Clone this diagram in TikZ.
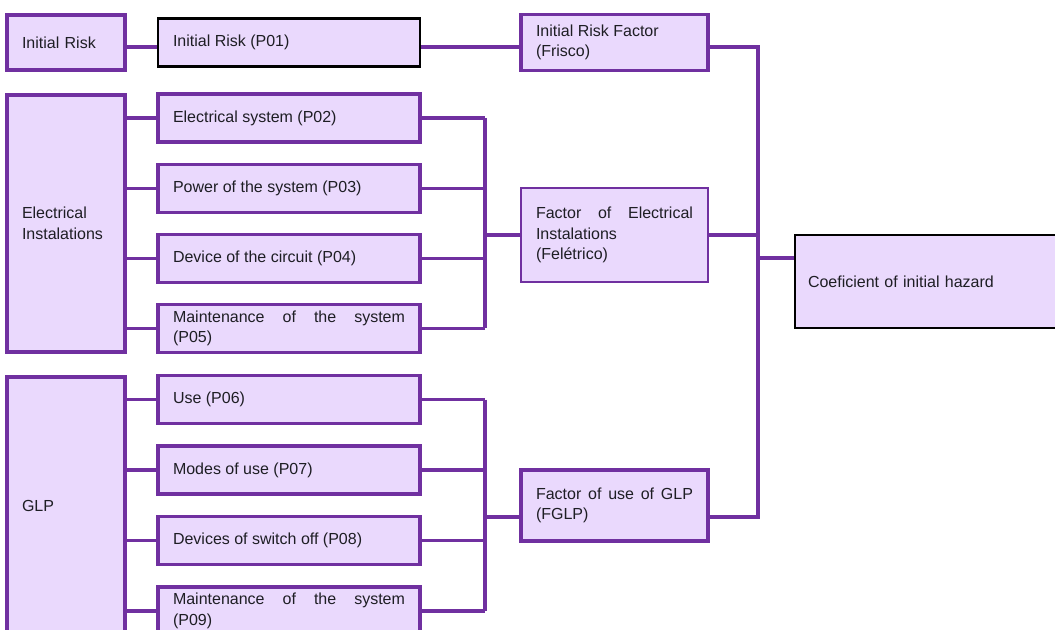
\documentclass[tikz,border=0pt]{standalone}
\usepackage{fontspec}
\setmainfont{Liberation Sans}
\usepackage{tikz}
\definecolor{boxfill}{HTML}{EAD9FD}
\definecolor{boxline}{HTML}{7030A0}
\definecolor{boxtext}{HTML}{1E1E24}
\tikzstyle{box}=[rectangle, draw=boxline, fill=boxfill, line width=2.5pt, inner xsep=11.25pt, inner ysep=0pt]
\tikzstyle{box}+=[text=boxtext, font=\fontsize{12}{15.5}\selectfont, align=left]
\tikzstyle{catbox}=[box, minimum width=88.5pt, text width=66pt]
\tikzstyle{itembox}=[box, minimum width=196.5pt, text width=174pt, minimum height=36pt, align=justify]
\tikzstyle{factorbox}=[box, minimum width=140.25pt, text width=117.75pt, align=justify]
\tikzstyle{blackbox}=[draw=black, line width=1.7pt]
\tikzstyle{link}=[draw=boxline, line width=2.5pt]

\begin{document}
\begin{tikzpicture}[x=0.75pt, y=-0.75pt]
	\useasboundingbox (0,0) rectangle (1055,630);

	\node[catbox, minimum height=41.25pt] (ir) at (66,42.5) {Initial Risk};
	\node[itembox, blackbox] (p01) at (289,42.5) {Initial Risk (P01)};

	\node[catbox, minimum height=192.75pt] (ei) at (66,223.5) {Electrical\\Instalations};
	\node[itembox] (p02) at (289,118) {Electrical system (P02)};
	\node[itembox] (p03) at (289,188.5) {Power of the system (P03)};
	\node[itembox] (p04) at (289,258.5) {Device of the circuit (P04)};
	\node[itembox] (p05) at (289,328.5) {Maintenance of the system\linebreak (P05)};

	\node[catbox, minimum height=192.75pt] (glp) at (66,505.5) {GLP};
	\node[itembox] (p06) at (289,399.5) {Use (P06)};
	\node[itembox] (p07) at (289,470) {Modes of use (P07)};
	\node[itembox] (p08) at (289,540.5) {Devices of switch off (P08)};
	\node[itembox] (p09) at (289,611) {Maintenance of the system\linebreak (P09)};

	\node[factorbox, minimum height=42pt] (frisco) at (614.5,42.5) {Initial Risk Factor\\(Frisco)};
	\node[factorbox, minimum height=70.5pt, line width=1.8pt] (fel) at (614.5,235) {Factor of Electrical\linebreak Instalations\\(Felétrico)};
	\node[factorbox, minimum height=53.25pt] (fglp) at (614.5,505.5) {Factor of use of GLP\linebreak (FGLP)};

	\node[box, blackbox, minimum width=202.5pt, text width=183pt, inner xsep=9.75pt, minimum height=69.75pt] (coef) at (930,281.5) {Coeficient of initial hazard};

	\coordinate (ebus) at (485,0);
	\coordinate (rbus) at (758,0);

	\draw[link] ([yshift=-3.4pt]ir.east) -- ([yshift=-3.4pt]p01.west);
	\draw[link] ([yshift=-3.4pt]p01.east) -- ([yshift=-3.4pt]frisco.west);

	\foreach \p in {p02,p03,p04,p05} {
		\draw[link] (\p.west -| ei.east) -- (\p.west);
		\draw[link] (\p.east) -- (\p.east -| ebus);
	}
	\draw[link] (p02.east -| ebus) -- (p05.east -| ebus);
	\draw[link] (fel.west -| ebus) -- (fel.west);

	\foreach \p in {p06,p07,p08,p09} {
		\draw[link] (\p.west -| glp.east) -- (\p.west);
		\draw[link] (\p.east) -- (\p.east -| ebus);
	}
	\draw[link] (p06.east -| ebus) -- (p09.east -| ebus);
	\draw[link] ([yshift=-8.6pt]fglp.west -| ebus) -- ([yshift=-8.6pt]fglp.west);

	\draw[link] ([yshift=-3.4pt]frisco.east) -- ([yshift=-3.4pt]frisco.east -| rbus)
		-- ([yshift=-8.6pt]fglp.east -| rbus) -- ([yshift=-8.6pt]fglp.east);
	\draw[link] (fel.east) -- (fel.east -| rbus);
	\draw[link] ([yshift=17.6pt]coef.west -| rbus) -- ([yshift=17.6pt]coef.west);
\end{tikzpicture}
\end{document}
